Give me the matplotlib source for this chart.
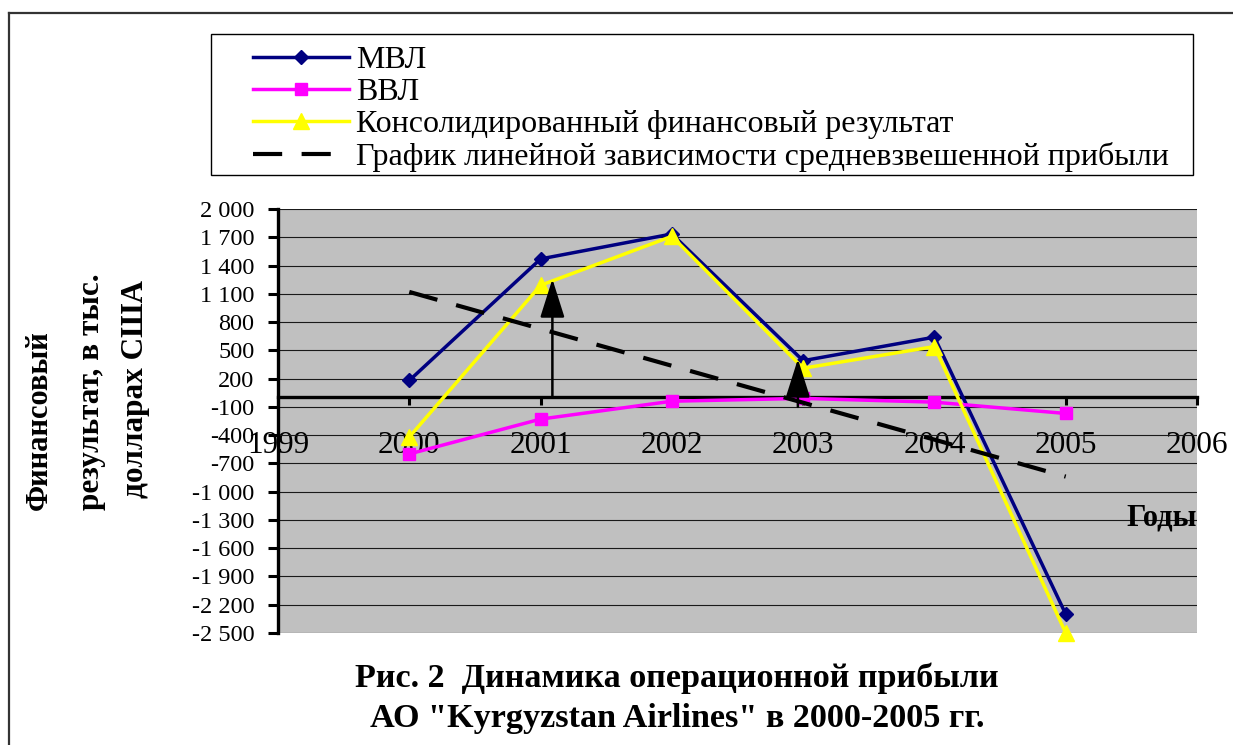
import matplotlib
matplotlib.use('Agg')
import matplotlib.pyplot as plt
from matplotlib.lines import Line2D
from matplotlib.patches import Rectangle

plt.rcParams['font.family'] = ['Liberation Serif', 'DejaVu Serif']
plt.rcParams['lines.scale_dashes'] = False

# ---- data ----
years = [2000, 2001, 2002, 2003, 2004, 2005]
mvl = [180, 1470, 1735, 390, 640, -2300]
vvl = [-600, -230, -40, -10, -50, -170]
consolidated = [-420, 1190, 1710, 310, 540, -2500]
trend_years = [2000, 2005]
trend_values = [1120, -840]
arrow_x = [2001.09, 2002.96]
arrow_base = [0, -100]
arrow_tip = [1257, 408]

series_labels = ['МВЛ', 'ВВЛ', 'Консолидированный финансовый результат',
                 'График линейной зависимости средневзвешенной прибыли']
x_ticks = [1999, 2000, 2001, 2002, 2003, 2004, 2005, 2006]
x_tick_labels = ['1999', '2000', '2001', '2002', '2003', '2004', '2005', '2006']
y_ticks = [-2500, -2200, -1900, -1600, -1300, -1000, -700, -400, -100,
           200, 500, 800, 1100, 1400, 1700, 2000]
y_tick_labels = ['-2 500', '-2 200', '-1 900', '-1 600', '-1 300', '-1 000',
                 '-700', '-400', '-100', '200', '500', '800', '1 100',
                 '1 400', '1 700', '2 000']
y_label_lines = ['Финансовый', 'результат, в тыс.', 'долларах США']
x_label = 'Годы'
title_lines = ['Рис. 2  Динамика операционной прибыли',
               'АО "Kyrgyzstan Airlines" в 2000-2005 гг.']

W, H = 1233, 745
fig = plt.figure(figsize=(W / 100, H / 100), dpi=100)

def fx(px):
    return px / W

def fy(py):
    return 1 - py / H

left, right, top, bottom = 278, 1197, 209, 633
ax = fig.add_axes([fx(left), fy(bottom), fx(right - left), (bottom - top) / H])
ax.set_facecolor('#C0C0C0')

for s in ['top', 'right']:
    ax.spines[s].set_visible(False)
ax.spines['left'].set_linewidth(2.4)
ax.spines['bottom'].set_linewidth(2.4)
ax.spines['bottom'].set_position(('data', 0))
ax.spines['bottom'].set_zorder(3)

ax.set_xlim(1999, 2006)
ax.set_ylim(-2500, 2000)

navy = '#000080'
magenta = '#FF00FF'
yellow = '#FFFF00'
dash_pattern = (21, 14)

l1, = ax.plot(years, mvl, color=navy, lw=2.5, marker='D', markersize=7,
              markerfacecolor=navy, markeredgecolor=navy, zorder=4, clip_on=False)
l2, = ax.plot(years, vvl, color=magenta, lw=2.5, marker='s', markersize=8.5,
              markerfacecolor=magenta, markeredgecolor=magenta, zorder=4, clip_on=False)
l3, = ax.plot(years, consolidated, color=yellow, lw=2.5, marker='^', markersize=12,
              markerfacecolor=yellow, markeredgecolor=yellow, zorder=5, clip_on=False)
l4, = ax.plot(trend_years, trend_values, color='black', lw=3, dashes=dash_pattern,
              zorder=6, clip_on=False)

for xa, yb, yt in zip(arrow_x, arrow_base, arrow_tip):
    ax.annotate('', xy=(xa, yt), xytext=(xa, yb),
                arrowprops=dict(arrowstyle='-|>,head_length=1.2,head_width=0.38',
                                mutation_scale=20, lw=1.8, color='black',
                                shrinkA=0, shrinkB=0),
                zorder=7)

ax.set_yticks(y_ticks)
ax.set_yticklabels(y_tick_labels)
ax.set_xticks(x_ticks)
ax.set_xticklabels(x_tick_labels)
ax.yaxis.grid(True, color='#1a1a1a', lw=0.8)
ax.xaxis.grid(False)
ax.set_axisbelow(True)
ax.tick_params(axis='y', direction='out', length=7, width=2.2, pad=10,
               labelsize=17.5)
ax.tick_params(axis='x', direction='out', length=6, width=2.2, pad=18,
               labelsize=22.5)

# axis title texts
fig.text(fx(39), fy(420), y_label_lines[0], rotation=90, ha='center', va='center',
         fontsize=22, fontweight='bold')
fig.text(fx(91), fy(392), y_label_lines[1], rotation=90, ha='center', va='center',
         fontsize=22.5, fontweight='bold')
fig.text(fx(135), fy(389), y_label_lines[2], rotation=90, ha='center', va='center',
         fontsize=22.5, fontweight='bold')
fig.text(fx(1197), fy(518), x_label, ha='right', va='center', fontsize=22,
         fontweight='bold')

fig.text(fx(677), fy(678), title_lines[0], ha='center', va='center', fontsize=24.6,
         fontweight='bold')
fig.text(fx(677), fy(718), title_lines[1], ha='center', va='center', fontsize=24.6,
         fontweight='bold')

# legend
leg_handles = [
    Line2D([], [], color=navy, lw=2.5, marker='D', markersize=7),
    Line2D([], [], color=magenta, lw=2.5, marker='s', markersize=8.5),
    Line2D([], [], color=yellow, lw=2.5, marker='^', markersize=12),
    Line2D([], [], color='black', lw=3, dashes=dash_pattern),
]
leg = fig.legend(leg_handles, series_labels, loc='upper left',
                 bbox_to_anchor=(fx(253), fy(46)), frameon=False, fontsize=23,
                 handlelength=3.0, handletextpad=0.23, labelspacing=0.08,
                 borderpad=0, borderaxespad=0, numpoints=1)
fig.add_artist(Rectangle((fx(211), fy(175)), fx(1193 - 211), (175 - 34) / H,
                         transform=fig.transFigure, fill=False, ec='black', lw=1))

# outer frame (top and left)
fig.add_artist(Line2D([fx(9), fx(9)], [0, fy(13)], transform=fig.transFigure,
                      color='#333333', lw=1.6))
fig.add_artist(Line2D([fx(9), 1], [fy(13), fy(13)], transform=fig.transFigure,
                      color='#333333', lw=1.6))

fig.savefig('out.png', dpi=100)
